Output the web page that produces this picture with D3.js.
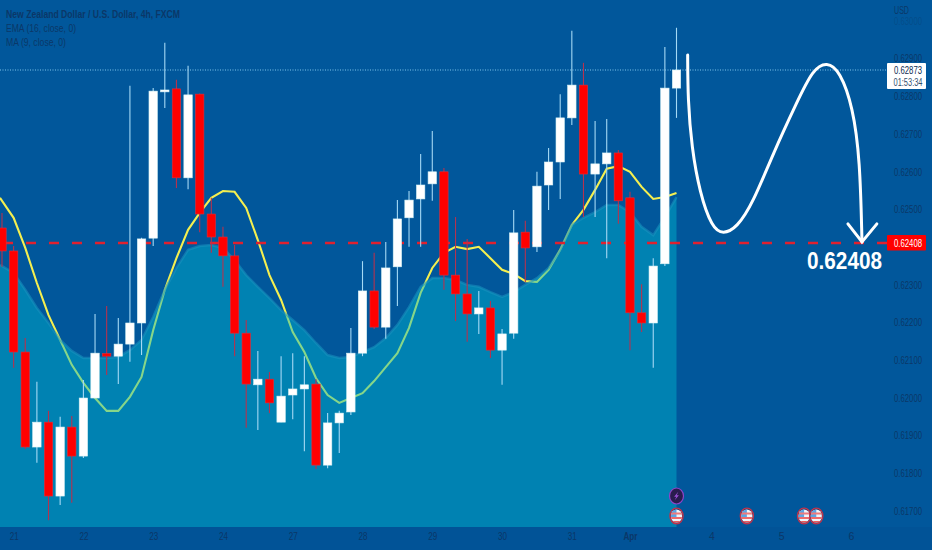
<!DOCTYPE html>
<html><head><meta charset="utf-8">
<script src="https://cdn.jsdelivr.net/npm/d3@7"></script>
<style>
html,body{margin:0;padding:0;background:#01579b;overflow:hidden}
svg{display:block}
text{font-family:"Liberation Sans",sans-serif}
</style></head><body>
<svg id="c" width="932" height="550"></svg>
<script>
const opens=[.62448,.62387,.62119,.61867,.61933,.61737,.61920,.61843,.61997,.62115,.62108,.62140,.62196,.62421,.62809,.62817,.62581,.62803,.62485,.62424,.62374,.62169,.62032,.62047,.61933,.62005,.62021,.62034,.61819,.61931,.61960,.62116,.62281,.62185,.62345,.62475,.62525,.62565,.62597,.62323,.62273,.62220,.62236,.62124,.62169,.62437,.62398,.62562,.62623,.62740,.62827,.62591,.62618,.62647,.62528,.62223,.62196,.62353,.62819];
const highs=[.62488,.62400,.62156,.62040,.61963,.61947,.61949,.62045,.62220,.62241,.62209,.62825,.62422,.62819,.62939,.62841,.62878,.62805,.62528,.62451,.62403,.62204,.62122,.62066,.62108,.62116,.62108,.62047,.61957,.61963,.62183,.62360,.62382,.62411,.62522,.62546,.62644,.62705,.62607,.62477,.62419,.62281,.62254,.62180,.62496,.62467,.62597,.62660,.62803,.62971,.62886,.62732,.62737,.62655,.62544,.62299,.62368,.62928,.62979];
const lows=[.62345,.62077,.61862,.61825,.61673,.61713,.61719,.61838,.61997,.62058,.62034,.62093,.62111,.62400,.62766,.62554,.62551,.62437,.62382,.62292,.62108,.61918,.61912,.61957,.61933,.61941,.61856,.61809,.61811,.61851,.61952,.62108,.62180,.62154,.62241,.62398,.62398,.62520,.62284,.62201,.62146,.62167,.62103,.62032,.62154,.62305,.62384,.62496,.62525,.62721,.62477,.62477,.62368,.62459,.62124,.62172,.62077,.62347,.62740];
const closes=[.62387,.62119,.61867,.61933,.61737,.61920,.61843,.61997,.62116,.62108,.62140,.62196,.62419,.62811,.62814,.62581,.62801,.62485,.62424,.62374,.62169,.62034,.62047,.61984,.62002,.62021,.62032,.61819,.61931,.61957,.62116,.62281,.62185,.62342,.62472,.62522,.62562,.62597,.62323,.62273,.62220,.62236,.62124,.62167,.62435,.62395,.62559,.62623,.62740,.62827,.62591,.62618,.62647,.62520,.62223,.62196,.62347,.62819,.62867];
const ema16=[.62528,.62475,.62395,.62302,.62217,.62151,.62085,.62037,.61997,.61963,.61963,.62000,.62053,.62177,.62284,.62368,.62443,.62488,.62528,.62546,.62544,.62501,.62416,.62323,.62257,.62172,.62119,.62050,.62005,.61984,.61997,.62010,.62042,.62079,.62116,.62183,.62276,.62342,.62382,.62398,.62392,.62398,.62368,.62337,.62326,.62307,.62305,.62337,.62390,.62456,.62496,.62549,.62605,.62612,.62597,.62557,.62525,.62530,.62541];
const ma9=[.62350,.62329,.62284,.62236,.62196,.62151,.62122,.62103,.62103,.62103,.62106,.62124,.62151,.62212,.62284,.62342,.62390,.62400,.62403,.62395,.62363,.62323,.62292,.62262,.62230,.62204,.62177,.62143,.62111,.62103,.62106,.62119,.62132,.62156,.62191,.62238,.62292,.62315,.62315,.62310,.62297,.62292,.62278,.62265,.62278,.62297,.62315,.62342,.62390,.62456,.62475,.62490,.62509,.62509,.62490,.62451,.62429,.62477,.62530];
const priceTicks=[.617,.618,.619,.620,.621,.622,.623,.625,.626,.627,.628,.629,.630];
const timeBars=[1,7,13,19,25,31,37,43,49,54,61,67,73];
const timeLabels=["21","22","23","24","27","28","29","30","31","Apr","4","5","6"];
const lastPrice=.62867, lastLabel="0.62873", countdown="01:53:34";
const targetPrice=.62408, targetLabel="0.62408";
const legendTitle="New Zealand Dollar / U.S. Dollar, 4h, FXCM";
const legendLines=["EMA (16, close, 0)","MA (9, close, 0)"];
const curveBars=[58.96,58.98,59.3,60.0,61.05,62.0,63.2,64.57,66.3,68.36,69.73,70.94,72.05,73.17,73.78,73.95,73.95];
const curvePrices=[.62907,.62788,.62663,.62541,.62449,.62431,.62449,.62514,.62645,.62782,.62869,.62889,.62864,.62769,.62628,.62411,.62411];
const arrowBars=[72.74,73.95,75.23];
const arrowPrices=[.62459,.62411,.62459];
const flagBars=[58,64,69,70];
const boltBars=[58];

const svg=d3.select("#c");
const x=d3.scaleLinear().domain([0,58]).range([2,676.5]);
const y=d3.scaleLinear().domain([.617,.62867]).range([510,70]);
const BOTTOM=527, bodyW=8.4;
const idx=d3.range(closes.length);
const bg="#01579b", axisText="#0b3768";
const fit=(sel,w)=>sel.attr("textLength",w).attr("lengthAdjust","spacingAndGlyphs");
const edgeX=i=>i===0?0:x(i);

svg.append("rect").attr("width",932).attr("height",550).attr("fill",bg);
svg.append("rect").attr("y",BOTTOM).attr("width",932).attr("height",23).attr("fill","#015397");

// EMA below the translucent area so it turns green inside it
svg.append("path").datum(idx)
  .attr("d",d3.line().x(edgeX).y(i=>y(ema16[i]))).attr("fill","none").attr("stroke","#f4ef50").attr("stroke-width",2.1);
svg.append("path").datum(idx)
  .attr("d",d3.area().x(edgeX).y0(BOTTOM).y1(i=>y(ma9[i]))).attr("fill","#00b7cf").attr("fill-opacity",.45);
svg.append("path").datum(idx)
  .attr("d",d3.line().x(edgeX).y(i=>y(ma9[i]))).attr("fill","none").attr("stroke","#1a93c0").attr("stroke-width",2.5).attr("stroke-opacity",.55);

// last price + target lines
svg.append("line").attr("x1",0).attr("x2",887).attr("y1",y(lastPrice)).attr("y2",y(lastPrice))
  .attr("stroke","#7fc4ea").attr("stroke-width",1).attr("stroke-dasharray","1 1.5");
svg.append("line").attr("x1",3).attr("x2",887).attr("y1",y(targetPrice)).attr("y2",y(targetPrice))
  .attr("stroke","#e0212f").attr("stroke-width",2.6).attr("stroke-dasharray","10 13");

// candles
const up=i=>closes[i]>=opens[i];
svg.append("g").selectAll("line").data(idx).join("line")
  .attr("x1",i=>x(i)).attr("x2",i=>x(i)).attr("y1",i=>y(highs[i])).attr("y2",i=>y(lows[i]))
  .attr("stroke",i=>up(i)?"#a5d9f5":"#b5324f").attr("stroke-width",1.1);
svg.append("g").selectAll("rect").data(idx).join("rect")
  .attr("x",i=>x(i)-bodyW/2).attr("width",bodyW)
  .attr("y",i=>y(Math.max(opens[i],closes[i])))
  .attr("height",i=>Math.max(1.5,Math.abs(y(opens[i])-y(closes[i]))))
  .attr("fill",i=>up(i)?"#ffffff":"#ff0000")
  .attr("stroke",i=>up(i)?"#d8f2f5":"#d9303f").attr("stroke-width",.6);

// axes
const ay=svg.append("g").attr("transform","translate(889,1)")
  .call(d3.axisRight(y).tickValues(priceTicks).tickFormat(d3.format(".5f")).tickSize(0).tickPadding(5));
ay.select(".domain").remove();
ay.selectAll("text").attr("fill",axisText).attr("font-size",10.5).attr("fill-opacity",d=>d===.63?.35:1).call(fit,28);
const ax=svg.append("g").attr("transform",`translate(0,${BOTTOM})`)
  .call(d3.axisBottom(x).tickValues(timeBars).tickFormat((d,i)=>timeLabels[i]).tickSize(0).tickPadding(6));
ax.select(".domain").remove();
ax.selectAll("text").attr("fill",axisText).attr("font-size",10.5)
  .attr("font-weight",(d,i)=>timeLabels[i]==="Apr"?700:400);
ax.selectAll("text").filter((d,i)=>timeLabels[i]==="Apr").call(fit,14);
ax.selectAll("text").filter((d,i)=>timeLabels[i].length===2).call(fit,9);
svg.append("text").attr("x",894).attr("y",14).text("USD").attr("fill",axisText).attr("font-size",10).call(fit,15);

// legend
svg.append("text").attr("x",6).attr("y",18).text(legendTitle).attr("fill",axisText).attr("font-size",11).attr("font-weight",700).call(fit,174);
const legendW=[70,60];
legendLines.forEach((t,i)=>svg.append("text").attr("x",6).attr("y",32+14*i).text(t).attr("fill",axisText).attr("font-size",11).call(fit,legendW[i]));

// price labels
svg.append("rect").attr("x",887).attr("y",y(lastPrice)-7).attr("width",39).attr("height",26).attr("fill","#fff").attr("rx",1);
svg.append("text").attr("x",894).attr("y",y(lastPrice)+4).text(lastLabel).attr("fill","#0c2c52").attr("font-size",10.5).call(fit,28);
svg.append("text").attr("x",893.5).attr("y",y(lastPrice)+16).text(countdown).attr("fill","#33506f").attr("font-size",10).call(fit,29);
svg.append("rect").attr("x",887).attr("y",y(targetPrice)-8).attr("width",39).attr("height",15.5).attr("fill","#ff0000").attr("rx",1);
svg.append("text").attr("x",894).attr("y",y(targetPrice)+4).text(targetLabel).attr("fill","#fff").attr("font-size",10.5).call(fit,28);

// drawn annotation
svg.append("path").datum(d3.range(curveBars.length))
  .attr("d",d3.line().x(i=>x(curveBars[i])).y(i=>y(curvePrices[i])).curve(d3.curveBasis))
  .attr("fill","none").attr("stroke","#fff").attr("stroke-width",3).attr("stroke-linecap","round");
svg.append("path").datum(d3.range(arrowBars.length))
  .attr("d",d3.line().x(i=>x(arrowBars[i])).y(i=>y(arrowPrices[i])))
  .attr("fill","none").attr("stroke","#fff").attr("stroke-width",3).attr("stroke-linecap","round").attr("stroke-linejoin","miter");
svg.append("text").attr("x",807).attr("y",269).text(targetLabel)
  .attr("fill","#fff").attr("font-size",24).attr("font-weight",700).call(fit,75);

// events
const flag=svg.append("defs").append("clipPath").attr("id","fc");
flag.append("ellipse").attr("rx",5.6).attr("ry",6.6);
flagBars.forEach(b=>{
  const g=svg.append("g").attr("transform",`translate(${x(b+(b===58?0:b===64?0.05:b===69?-0.03:0.02))},516)`);
  g.append("ellipse").attr("rx",6.6).attr("ry",7.8).attr("fill","#1b3a6b").attr("stroke","#c2334a").attr("stroke-width",1.3);
  const f=g.append("g").attr("clip-path","url(#fc)");
  f.append("rect").attr("x",-7).attr("y",-8).attr("width",14).attr("height",16).attr("fill","#f0f4fa");
  f.append("rect").attr("x",-7).attr("y",-8).attr("width",7).attr("height",9).attr("fill","#5aa6e6");
  f.append("rect").attr("x",-7).attr("y",-3.5).attr("width",14).attr("height",2).attr("fill","#f07a7a");
  f.append("rect").attr("x",-7).attr("y",1).attr("width",14).attr("height",2).attr("fill","#ef6b6b");
  f.append("rect").attr("x",-7).attr("y",5).attr("width",14).attr("height",3).attr("fill","#ef5b5b");
});
boltBars.forEach(b=>{
  const g=svg.append("g").attr("transform",`translate(${x(b)},496)`);
  g.append("ellipse").attr("rx",7).attr("ry",8).attr("fill","#2a1c4e").attr("stroke","#8d46c9").attr("stroke-width",1.2);
  g.append("path").attr("d",d3.line()([[1.8,-4.2],[-2.4,.8],[-.2,.8],[-1.8,4.2],[2.4,-.8],[.2,-.8]])+"Z").attr("fill","#9b4fd6");
});
</script></body></html>
